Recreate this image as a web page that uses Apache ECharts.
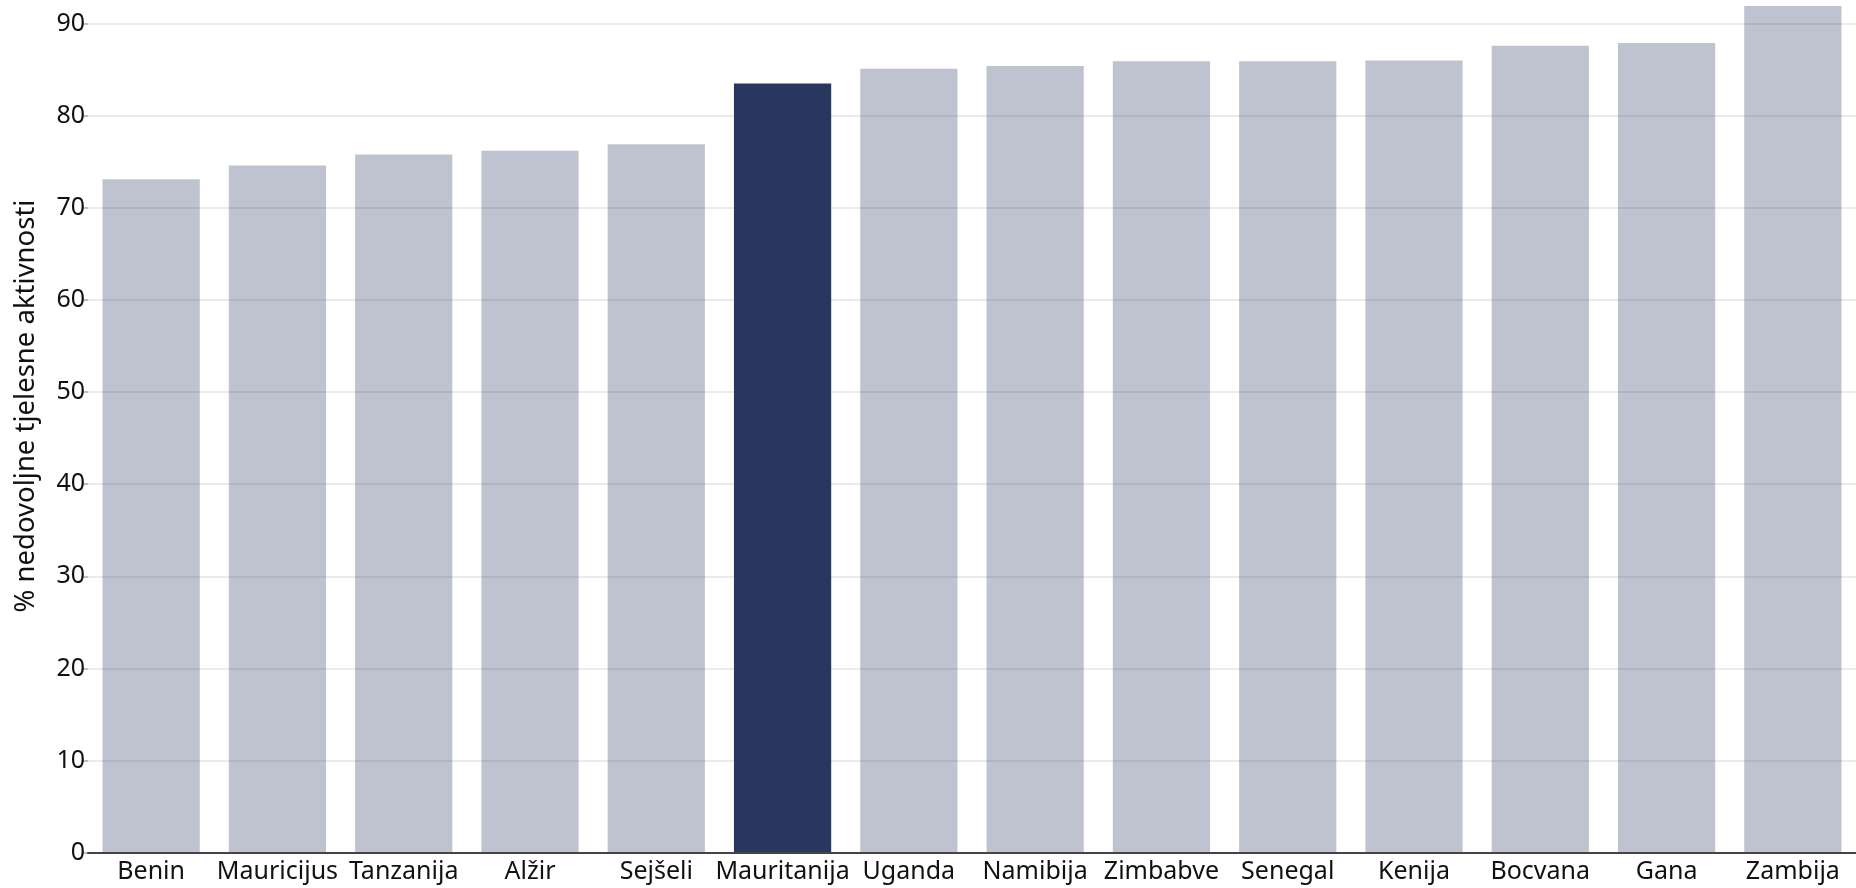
<!DOCTYPE html>
<html>
<head>
<meta charset="utf-8">
<style>
html,body{margin:0;padding:0;background:#fff;}
#chart{width:1856px;height:888px;}
</style>
<script src="https://cdn.jsdelivr.net/npm/echarts@6/dist/echarts.min.js"></script>
</head>
<body>
<div id="chart"></div>
<script>
const categories = ['Benin','Mauricijus','Tanzanija','Alžir','Sejšeli','Mauritanija','Uganda','Namibija','Zimbabve','Senegal','Kenija','Bocvana','Gana','Zambija'];
const values = [73.1, 74.6, 75.8, 76.2, 76.9, 83.5, 85.1, 85.4, 85.9, 85.9, 86.0, 87.6, 87.9, 91.9];
const highlighted = ['Mauritanija'];
const yTitle = '% nedovoljne tjelesne aktivnosti';

const NAVY = '#29375f';
const FONT = 'Noto Sans';

const chart = echarts.init(document.getElementById('chart'));
chart.setOption({
  animation: false,
  backgroundColor: '#ffffff',
  grid: { left: 88, right: -4, top: 23.6, bottom: 35.3, containLabel: false },
  xAxis: {
    type: 'category',
    data: categories,
    axisLine: { show: true, lineStyle: { color: '#444', width: 2 } },
    axisTick: { show: false },
    axisLabel: { color: '#111', fontFamily: FONT, fontSize: 25, margin: 7, interval: 0 },
    z: 5
  },
  yAxis: {
    type: 'value',
    min: 0, max: 90, interval: 10,
    axisLine: { show: false },
    axisTick: { show: true, length: 5, lineStyle: { color: '#aaa', width: 1.5 } },
    axisLabel: { color: '#111', fontFamily: FONT, fontSize: 25, margin: 3 },
    splitLine: { show: true, lineStyle: { color: '#ebebeb', width: 2 } }
  },
  graphic: [{
    type: 'text',
    x: 26, y: 406,
    rotation: Math.PI / 2,
    style: {
      text: yTitle,
      fill: '#111',
      font: '27.5px "Noto Sans"',
      textAlign: 'center',
      textVerticalAlign: 'middle'
    }
  }],
  series: [{
    type: 'bar',
    clip: false,
    barCategoryGap: '23%',
    data: values.map((v, i) => ({
      value: v,
      itemStyle: highlighted.includes(categories[i])
        ? { color: NAVY, opacity: 1 }
        : { color: NAVY, opacity: 0.3 }
    }))
  }]
});
</script>
</body>
</html>
